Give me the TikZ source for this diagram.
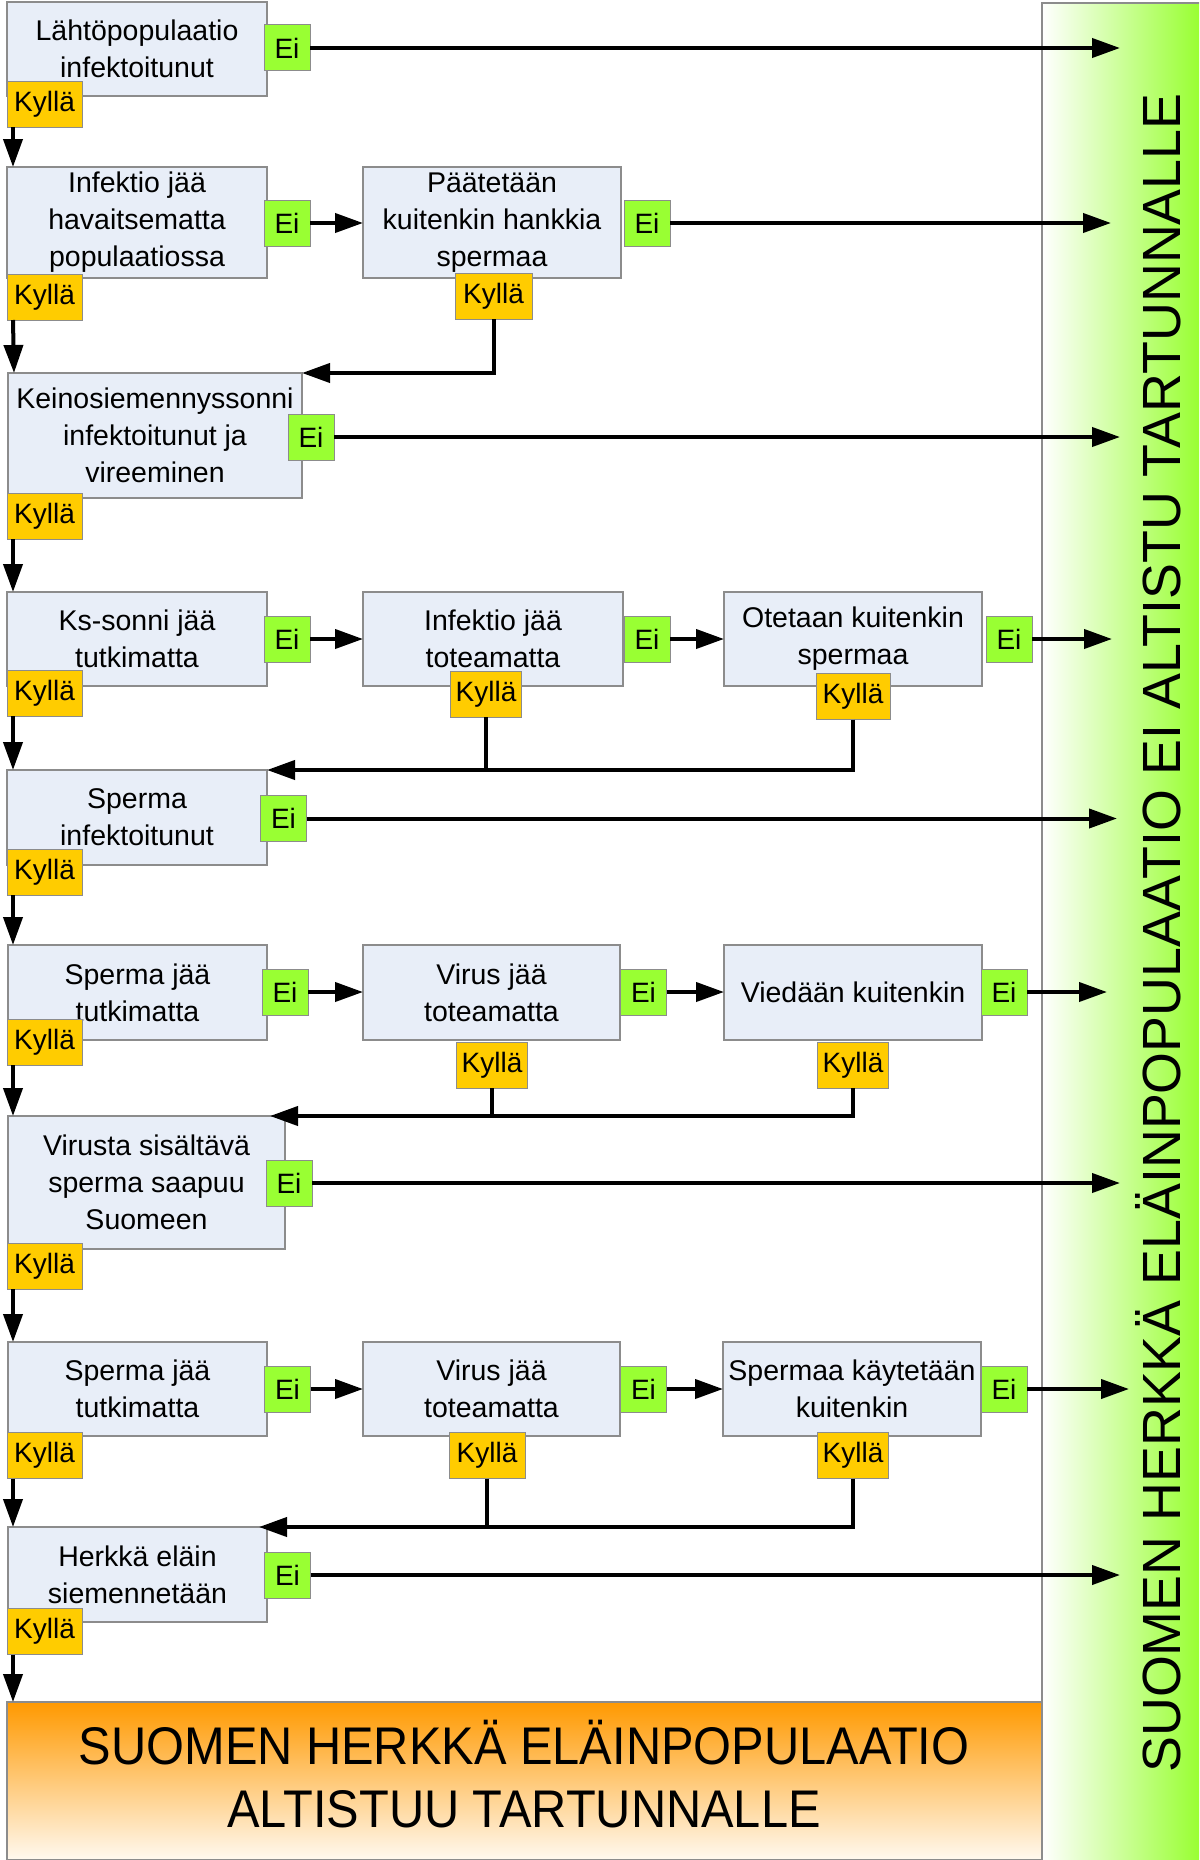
\documentclass[tikz,border=0pt]{standalone}
\usepackage{fontspec}
\setmainfont{Liberation Sans}
\usetikzlibrary{arrows.meta,calc}
\definecolor{boxfill}{HTML}{E8EEF8}
\definecolor{boxline}{HTML}{8C8C8C}
\definecolor{eigreen}{HTML}{99FF33}
\definecolor{kyllagold}{HTML}{FFCC00}
\definecolor{panelgreen}{HTML}{99FF33}
\definecolor{orng}{HTML}{FF9900}
\definecolor{orngpale}{HTML}{FFF9F0}
\begin{document}
\begin{tikzpicture}[x=1pt,y=-1pt,
  stepbox/.style={draw=boxline, fill=boxfill, line width=1.2pt, outer sep=0pt, inner sep=0pt,
    align=center, font=\fontsize{28.5}{37}\selectfont},
  eibox/.style={draw=boxline, fill=eigreen, line width=1pt, outer sep=0pt, inner sep=0pt,
    minimum width=46pt, minimum height=46pt, font=\fontsize{28}{34}\selectfont},
  kbox/.style={draw=boxline, fill=kyllagold, line width=1pt, outer sep=0pt, inner sep=0pt,
    minimum width=75pt, minimum height=46pt, font=\fontsize{28}{34}\selectfont},
  arr/.style={line width=4pt, -{Triangle[length=28pt,width=19pt]}},
  conn/.style={line width=4pt},
]
\useasboundingbox (0,0) rectangle (1199,1860);

% right panel
\shade[left color=white, right color=panelgreen] (1042,3) rectangle (1199,1860);
\draw[boxline, line width=1.2pt] (1042,1860) -- (1042,3) -- (1199,3);
\node[rotate=90, anchor=base, font=\fontsize{53.8}{60}\selectfont] (side) at (1180,933)
  {SUOMEN HERKKÄ ELÄINPOPULAATIO EI ALTISTU TARTUNNALLE};

% bottom panel
\shade[top color=orng, bottom color=orngpale] (7,1702) rectangle (1042,1860);
\draw[boxline, line width=1.2pt] (7,1702) rectangle (1042,1860);
\node[align=center, font=\fontsize{53}{63}\selectfont] (final) at (524,1774)
  {\scalebox{0.92}[1]{SUOMEN HERKKÄ ELÄINPOPULAATIO}\\\scalebox{0.92}[1]{ALTISTUU TARTUNNALLE}};
\coordinate (finaltop) at (13,1702);

% row 1
\node[stepbox, minimum width=260pt, minimum height=94pt] (b1) at (137,49) {Lähtöpopulaatio\\infektoitunut};
\node[eibox] (e1) at (287,48) {Ei};
\node[kbox] (k1) at (44.5,104) {Kyllä};

% row 2
\node[stepbox, minimum width=260pt, minimum height=111pt] (b2) at (137,222.5) {Infektio jää\\havaitsematta\\populaatiossa};
\node[stepbox, minimum width=258pt, minimum height=111pt] (b2b) at (492,222.5) {Päätetään\\kuitenkin hankkia\\spermaa};
\node[eibox] (e2) at (287,223) {Ei};
\node[eibox] (e2b) at (647,223) {Ei};
\node[kbox] (k2) at (44.5,297) {Kyllä};
\node[kbox, minimum width=77pt] (k2b) at (493.5,296) {Kyllä};

% row 3
\node[stepbox, minimum width=294pt, minimum height=125pt] (b3) at (155,435.5) {Keinosiemennyssonni\\infektoitunut ja\\vireeminen};
\node[eibox] (e3) at (311,437) {Ei};
\node[kbox] (k3) at (44.5,516) {Kyllä};

% row 4
\node[stepbox, minimum width=260pt, minimum height=94pt] (b4a) at (137,639) {Ks-sonni jää\\tutkimatta};
\node[stepbox, minimum width=260pt, minimum height=94pt] (b4b) at (493,639) {Infektio jää\\toteamatta};
\node[stepbox, minimum width=258pt, minimum height=94pt] (b4c) at (853,639) {Otetaan kuitenkin\\spermaa};
\node[eibox] (e4a) at (287,639) {Ei};
\node[eibox] (e4b) at (647,639) {Ei};
\node[eibox] (e4c) at (1009,639) {Ei};
\node[kbox] (k4a) at (44.5,693) {Kyllä};
\node[kbox, minimum width=71pt] (k4b) at (486,694) {Kyllä};
\node[kbox, minimum width=74pt] (k4c) at (853,696.5) {Kyllä};

% row 5
\node[stepbox, minimum width=260pt, minimum height=95pt] (b5) at (137,817.5) {Sperma\\infektoitunut};
\node[eibox] (e5) at (283.5,818.5) {Ei};
\node[kbox] (k5) at (44.5,872) {Kyllä};

% row 6
\node[stepbox, minimum width=259pt, minimum height=95pt] (b6a) at (137.5,992.5) {Sperma jää\\tutkimatta};
\node[stepbox, minimum width=257pt, minimum height=95pt] (b6b) at (491.5,992.5) {Virus jää\\toteamatta};
\node[stepbox, minimum width=258pt, minimum height=95pt] (b6c) at (853,992.5) {Viedään kuitenkin};
\node[eibox] (e6a) at (285,992) {Ei};
\node[eibox] (e6b) at (643.5,992) {Ei};
\node[eibox] (e6c) at (1004,992) {Ei};
\node[kbox] (k6a) at (44.5,1042) {Kyllä};
\node[kbox, minimum width=71pt] (k6b) at (492,1065) {Kyllä};
\node[kbox, minimum width=71pt] (k6c) at (853,1065) {Kyllä};

% row 7
\node[stepbox, minimum width=277pt, minimum height=133pt] (b7) at (146.5,1182.5) {Virusta sisältävä\\sperma saapuu\\Suomeen};
\node[eibox] (e7) at (289,1183) {Ei};
\node[kbox] (k7) at (44.5,1266) {Kyllä};

% row 8
\node[stepbox, minimum width=259pt, minimum height=94pt] (b8a) at (137.5,1389) {Sperma jää\\tutkimatta};
\node[stepbox, minimum width=257pt, minimum height=94pt] (b8b) at (491.5,1389) {Virus jää\\toteamatta};
\node[stepbox, minimum width=258pt, minimum height=94pt] (b8c) at (852,1389) {Spermaa käytetään\\kuitenkin};
\node[eibox] (e8a) at (287.5,1389) {Ei};
\node[eibox] (e8b) at (643.5,1389) {Ei};
\node[eibox] (e8c) at (1004,1389) {Ei};
\node[kbox] (k8a) at (44.5,1455.5) {Kyllä};
\node[kbox, minimum width=76pt] (k8b) at (487,1455.5) {Kyllä};
\node[kbox, minimum width=71pt] (k8c) at (853,1455.5) {Kyllä};

% row 9
\node[stepbox, minimum width=259pt, minimum height=95pt] (b9) at (137.5,1574.5) {Herkkä eläin\\siemennetään};
\node[eibox] (e9) at (287.5,1575) {Ei};
\node[kbox] (k9) at (44.5,1631.5) {Kyllä};

% tips of the "Ei" arrows into the right panel
\coordinate (t1) at (1120,0);
\coordinate (t2) at (1111,0);
\coordinate (t3) at (1120,0);
\coordinate (t4) at (1112,0);
\coordinate (t5) at (1117,0);
\coordinate (t6) at (1107,0);
\coordinate (t7) at (1120,0);
\coordinate (t8) at (1129,0);
\coordinate (t9) at (1120,0);

% Ei arrows
\draw[arr] (e1.east) -- (e1.east -| t1);
\draw[arr] (e2.east) -- (b2b.west |- e2.east);
\draw[arr] (e2b.east) -- (e2b.east -| t2);
\draw[arr] (e3.east) -- (e3.east -| t3);
\draw[arr] (e4a.east) -- (b4b.west |- e4a.east);
\draw[arr] (e4b.east) -- (b4c.west |- e4b.east);
\draw[arr] (e4c.east) -- (e4c.east -| t4);
\draw[arr] (e5.east) -- (e5.east -| t5);
\draw[arr] (e6a.east) -- (b6b.west |- e6a.east);
\draw[arr] (e6b.east) -- (b6c.west |- e6b.east);
\draw[arr] (e6c.east) -- (e6c.east -| t6);
\draw[arr] (e7.east) -- (e7.east -| t7);
\draw[arr] (e8a.east) -- (b8b.west |- e8a.east);
\draw[arr] (e8b.east) -- (b8c.west |- e8b.east);
\draw[arr] (e8c.east) -- (e8c.east -| t8);
\draw[arr] (e9.east) -- (e9.east -| t9);

% Kyllä arrows down the left column
\draw[arr] ([xshift=6pt]k1.south west) -- ([xshift=6pt]b2.north west);
\draw[arr] ([xshift=6pt]k2.south west) -- ([xshift=6pt]b3.north west);
\draw[arr] ([xshift=6pt]k3.south west) -- ([xshift=6pt]k3.south west |- b4a.north);
\draw[arr] ([xshift=6pt]k4a.south west) -- ([xshift=6pt]k4a.south west |- b5.north);
\draw[arr] ([xshift=6pt]k5.south west) -- ([xshift=6pt]k5.south west |- b6a.north);
\draw[arr] ([xshift=6pt]k6a.south west) -- ([xshift=6pt]k6a.south west |- b7.north);
\draw[arr] ([xshift=6pt]k7.south west) -- ([xshift=6pt]k7.south west |- b8a.north);
\draw[arr] ([xshift=6pt]k8a.south west) -- ([xshift=6pt]k8a.south west |- b9.north);
\draw[arr] ([xshift=6pt]k9.south west) -- (finaltop);

% Kyllä returns from the side branches
\draw[arr] (k2b.south) |- (b3.north east);
\draw[conn] (k4b.south) -- (k4b.south |- b5.north);
\draw[arr] (k4c.south) |- (b5.north east);
\draw[conn] (k6b.south) -- (k6b.south |- b7.north);
\draw[arr] (k6c.south) |- ([xshift=-15pt]b7.north east);
\draw[conn] (k8b.south) -- (k8b.south |- b9.north);
\draw[arr] (k8c.south) |- ([xshift=-8pt]b9.north east);
\end{tikzpicture}
\end{document}
